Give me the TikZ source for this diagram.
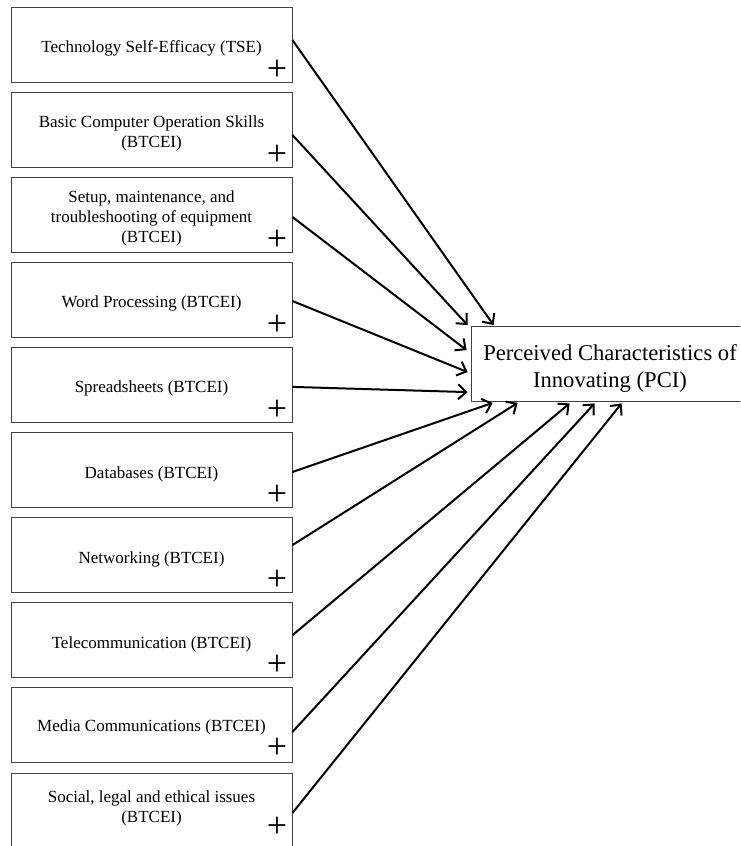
\documentclass[tikz,border=0pt]{standalone}
\usepackage{fontspec}
\setmainfont{Liberation Serif}
\usetikzlibrary{arrows.meta,calc}
\tikzset{
  srcbox/.style={draw=black!75, line width=0.8pt, minimum width=281pt, minimum height=75pt, inner sep=0pt},
  srclbl/.style={align=center, font=\fontsize{17}{20}\selectfont, inner sep=0pt},
  plussign/.style={font=\fontsize{36}{36}\selectfont, inner sep=0pt},
  pcibox/.style={draw=black!75, line width=0.8pt, minimum width=278pt, minimum height=75pt, inner sep=0pt},
  pcilbl/.style={align=center, font=\fontsize{22.6}{27}\selectfont, inner sep=0pt},
  link/.style={line width=2pt, black, -{Straight Barb[length=8pt,width=15pt,line width=2pt]}}
}
\begin{document}
\begin{tikzpicture}[x=1pt,y=-1pt]
\useasboundingbox (0,0) rectangle (740,846);
\clip (0,0) rectangle (740,846);
\fill[white] (0,0) rectangle (740,846);

\foreach \i/\txt/\dy/\py in {1/{Technology Self-Efficacy (TSE)}/0/0,
  2/{Basic Computer Operation Skills\\(BTCEI)}/0/0,
  3/{Setup, maintenance, and\\troubleshooting of equipment\\(BTCEI)}/0/0,
  4/{Word Processing (BTCEI)}/0/0,
  5/{Spreadsheets (BTCEI)}/0/0,
  6/{Databases (BTCEI)}/0/0,
  7/{Networking (BTCEI)}/0/0,
  8/{Telecommunication (BTCEI)}/0/0,
  9/{Media Communications (BTCEI)}/-2/-2,
  10/{Social, legal and ethical issues\\(BTCEI)}/-6/-9}{
  \node[srcbox] (b\i) at (151.5,{44.5+85.1*(\i-1)}) {};
  \node[srclbl] (t\i) at ($(b\i.center)+(0,4+\dy)$) {\txt};
  \node[plussign] (p\i) at ($(b\i.center)+(125.5,25.5+\py)$) {+};
}

\node[pcibox] (pci) at (610,364) {};
\node[pcilbl] (pcit) at ($(pci.center)+(0,4)$) {Perceived Characteristics of\\Innovating (PCI)};

\draw[link] ($(b1.east)+(0,-4.5)$) -- ($(pci.north west)+(23,-1)$);
\draw[link] ($(b2.east)+(0,5.4)$) -- ($(pci.north west)+(-3,-1)$);
\draw[link] ($(b3.east)+(0,2.3)$) -- ($(pci.north west)+(-4,24)$);
\draw[link] ($(b4.east)+(0,1.2)$) -- ($(pci.north west)+(-3,46)$);
\draw[link] ($(b5.east)+(0,2)$) -- ($(pci.north west)+(-3,66)$);
\draw[link] ($(b6.east)+(0,2)$) -- ($(pci.south west)+(22,1)$);
\draw[link] ($(b7.east)+(0,-10)$) -- ($(pci.south west)+(47,1)$);
\draw[link] ($(b8.east)+(0,-5)$) -- ($(pci.south west)+(99,1.5)$);
\draw[link] ($(b9.east)+(0,6.7)$) -- ($(pci.south west)+(124,1.5)$);
\draw[link] ($(b10.east)+(0,2.6)$) -- ($(pci.south west)+(151,1.5)$);
\end{tikzpicture}
\end{document}
